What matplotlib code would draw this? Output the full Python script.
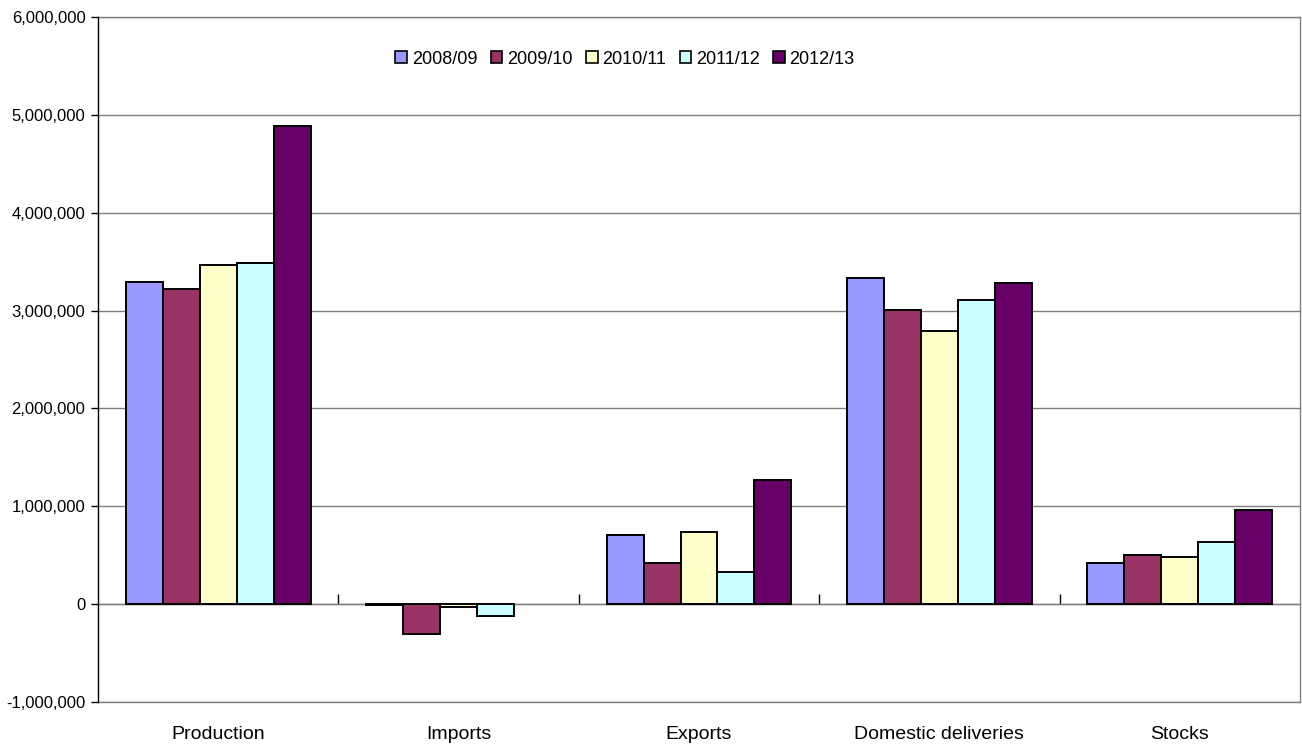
import matplotlib
matplotlib.use("Agg")
import matplotlib.pyplot as plt
from matplotlib.ticker import FuncFormatter, MultipleLocator
from matplotlib.patches import Patch
import numpy as np

categories = ["Production", "Imports", "Exports", "Domestic deliveries", "Stocks"]
seasons = ["2008/09", "2009/10", "2010/11", "2011/12", "2012/13"]

s2008_09 = [3290000, -10000, 705000, 3335000, 425000]
s2009_10 = [3220000, -300000, 425000, 3005000, 507000]
s2010_11 = [3470000, -25000, 738000, 2795000, 477000]
s2011_12 = [3482000, -123000, 333000, 3112000, 633000]
s2012_13 = [4888000, 0, 1267000, 3282000, 966000]

series = [s2008_09, s2009_10, s2010_11, s2011_12, s2012_13]
colors = ["#9999FF", "#993366", "#FFFFCC", "#CCFFFF", "#660066"]

plt.rcParams["font.family"] = ["Liberation Sans", "DejaVu Sans"]

fig = plt.figure(figsize=(13.02, 7.44), dpi=100)
ax = fig.add_axes([98 / 1302, 1 - 702 / 744, 1202 / 1302, 685 / 744])

ymin, ymax = -1000000, 6000000
x = np.arange(len(categories))
width = 1 / 6.5
for j, (vals, col) in enumerate(zip(series, colors)):
    bars = ax.bar(x + (j - 2) * width, vals, width, color=col, edgecolor="black",
                  linewidth=1.4, label=seasons[j], zorder=3)
    # empty values draw no outline
    for b, v in zip(bars, vals):
        if v == 0:
            b.set_linewidth(0)

ax.set_xlim(-0.5, len(categories) - 0.5)
ax.set_ylim(ymin, ymax)

# horizontal gridlines
ax.yaxis.set_major_locator(MultipleLocator(1000000))
ax.grid(axis="y", color="#808080", linewidth=1.0, zorder=0)
ax.yaxis.set_major_formatter(FuncFormatter(lambda v, p: f"{v:,.0f}"))
ax.tick_params(axis="y", direction="out", length=5, width=1, colors="black",
               labelsize=12, pad=4)

# category labels under the plot
ax.set_xticks(x)
ax.set_xticklabels(categories, fontsize=14)
ax.tick_params(axis="x", length=0, pad=17)

for side in ["top", "right", "bottom"]:
    ax.spines[side].set_color("#808080")
    ax.spines[side].set_linewidth(1.0)
ax.spines["left"].set_color("black")
ax.spines["left"].set_linewidth(1.0)
ax.spines["left"].set_zorder(5)

# category axis along zero with separator ticks pointing up
zero_pos = (0 - ymin) / (ymax - ymin)
sec = ax.secondary_xaxis(zero_pos)
sec.xaxis.set_ticks_position("top")
sec.set_xticks(x[:-1] + 0.5)
sec.set_xticklabels([])
sec.tick_params(axis="x", which="both", direction="out", length=7, width=1,
                colors="black", top=True, bottom=False)
for sp in sec.spines.values():
    sp.set_color("#808080")
    sp.set_linewidth(1.0)

handles = [Patch(facecolor=c, edgecolor="black", linewidth=1.2) for c in colors]
leg = ax.legend(handles, seasons, ncol=5, frameon=False, fontsize=13,
                loc="center", bbox_to_anchor=(625 / 1302, 1 - 59 / 744),
                bbox_transform=fig.transFigure, handlelength=0.65,
                handleheight=0.65, handletextpad=0.25, columnspacing=0.75)

fig.savefig("out.png", dpi=100)
